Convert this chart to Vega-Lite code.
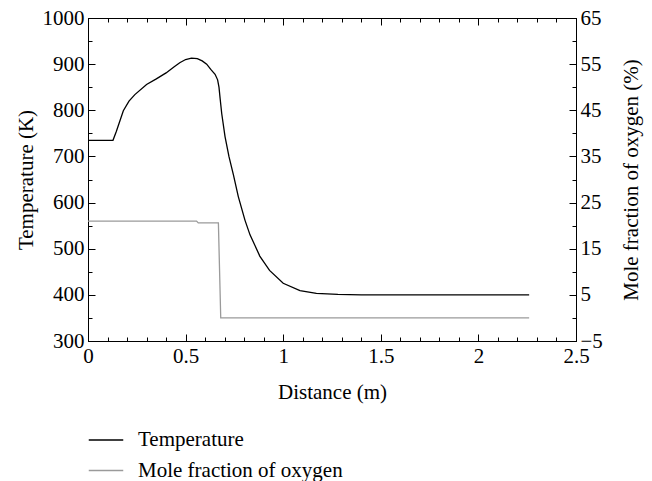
{
  "$schema": "https://vega.github.io/schema/vega-lite/v6.json",
  "width": 488,
  "height": 323,
  "autosize": {"type": "none"},
  "padding": {"left": 88, "top": 18, "right": 76, "bottom": 140},
  "background": "white",
  "config": {
    "font": "Liberation Serif",
    "view": {"stroke": "black", "strokeWidth": 1},
    "axis": {
      "grid": false,
      "domainColor": "black",
      "tickColor": "black",
      "labelColor": "black",
      "titleColor": "black",
      "labelFontSize": 21,
      "titleFontSize": 21,
      "titleFontWeight": "normal",
      "labelOverlap": false,
      "labelFlush": false
    },
    "legend": {"labelFontSize": 21, "labelColor": "black", "labelLimit": 500}
  },
  "data": {
    "values": [
      {"series": "Temperature", "d": 0, "v": 735},
      {"series": "Temperature", "d": 0.128, "v": 735},
      {"series": "Temperature", "d": 0.145, "v": 754},
      {"series": "Temperature", "d": 0.181, "v": 799},
      {"series": "Temperature", "d": 0.21, "v": 820},
      {"series": "Temperature", "d": 0.24, "v": 834},
      {"series": "Temperature", "d": 0.3, "v": 856},
      {"series": "Temperature", "d": 0.35, "v": 868},
      {"series": "Temperature", "d": 0.4, "v": 881},
      {"series": "Temperature", "d": 0.44, "v": 894},
      {"series": "Temperature", "d": 0.47, "v": 903},
      {"series": "Temperature", "d": 0.5, "v": 910},
      {"series": "Temperature", "d": 0.53, "v": 913},
      {"series": "Temperature", "d": 0.56, "v": 912},
      {"series": "Temperature", "d": 0.585, "v": 907},
      {"series": "Temperature", "d": 0.608, "v": 900},
      {"series": "Temperature", "d": 0.63, "v": 888},
      {"series": "Temperature", "d": 0.651, "v": 878},
      {"series": "Temperature", "d": 0.664, "v": 866},
      {"series": "Temperature", "d": 0.671, "v": 850},
      {"series": "Temperature", "d": 0.677, "v": 825},
      {"series": "Temperature", "d": 0.685, "v": 793},
      {"series": "Temperature", "d": 0.702, "v": 743},
      {"series": "Temperature", "d": 0.722, "v": 700},
      {"series": "Temperature", "d": 0.745, "v": 660},
      {"series": "Temperature", "d": 0.77, "v": 613},
      {"series": "Temperature", "d": 0.804, "v": 562},
      {"series": "Temperature", "d": 0.83, "v": 530},
      {"series": "Temperature", "d": 0.85, "v": 512},
      {"series": "Temperature", "d": 0.88, "v": 484},
      {"series": "Temperature", "d": 0.93, "v": 453},
      {"series": "Temperature", "d": 1.0, "v": 425},
      {"series": "Temperature", "d": 1.086, "v": 409},
      {"series": "Temperature", "d": 1.17, "v": 403},
      {"series": "Temperature", "d": 1.28, "v": 401},
      {"series": "Temperature", "d": 1.4, "v": 400},
      {"series": "Temperature", "d": 2.26, "v": 400},
      {"series": "Mole fraction of oxygen", "d": 0, "v": 21},
      {"series": "Mole fraction of oxygen", "d": 0.556, "v": 21},
      {"series": "Mole fraction of oxygen", "d": 0.565, "v": 20.6},
      {"series": "Mole fraction of oxygen", "d": 0.668, "v": 20.6},
      {"series": "Mole fraction of oxygen", "d": 0.68, "v": 0},
      {"series": "Mole fraction of oxygen", "d": 2.26, "v": 0}
    ]
  },
  "layer": [
    {
      "transform": [{"filter": "datum.series === 'Temperature'"}],
      "mark": {"type": "line", "strokeWidth": 1.3},
      "encoding": {
        "x": {
          "field": "d",
          "type": "quantitative",
          "scale": {"domain": [0, 2.5], "nice": false},
          "axis": {
            "orient": "bottom",
            "title": "Distance (m)",
            "values": [0,0.1,0.2,0.3,0.4,0.5,0.6,0.7,0.8,0.9,1,1.1,1.2,1.3,1.4,1.5,1.6,1.7,1.8,1.9,2,2.1,2.2,2.3,2.4,2.5],
            "labelExpr": "abs(datum.value*2-round(datum.value*2))<1e-6 ? format(datum.value,'~g') : ''",
            "tickSize": {"condition": {"test": "abs(datum.value*2-round(datum.value*2))<1e-6", "value": -7}, "value": -4},
            "labelPadding": 11,
            "titleY": 51,
            "titleBaseline": "middle"
          }
        },
        "y": {
          "field": "v",
          "type": "quantitative",
          "scale": {"domain": [300, 1000], "nice": false, "zero": false},
          "axis": {
            "orient": "left",
            "title": "Temperature (K)",
            "values": [300,350,400,450,500,550,600,650,700,750,800,850,900,950,1000],
            "labelExpr": "datum.value % 100 === 0 ? format(datum.value,'~g') : ''",
            "tickSize": {"condition": {"test": "datum.value % 100 === 0", "value": -7}, "value": -4},
            "labelPadding": 11,
            "titleAngle": 270,
            "titleX": -62,
            "titleY": 161.5,
            "titleAlign": "center",
            "titleBaseline": "middle"
          }
        },
        "color": {
          "field": "series",
          "type": "nominal",
          "scale": {"domain": ["Temperature", "Mole fraction of oxygen"], "range": ["#000000", "#9a9a9a"]},
          "legend": {
            "orient": "none",
            "legendX": 0,
            "legendY": 412,
            "title": null,
            "symbolType": "stroke",
            "symbolSize": 1190,
            "symbolStrokeWidth": 1.3,
            "labelOffset": 14,
            "labelLimit": 500,
            "clipHeight": 20,
            "rowPadding": 9.5
          }
        }
      }
    },
    {
      "transform": [{"filter": "datum.series === 'Mole fraction of oxygen'"}],
      "mark": {"type": "line", "strokeWidth": 1.3},
      "encoding": {
        "x": {
          "field": "d",
          "type": "quantitative",
          "axis": {
            "orient": "top",
            "title": null,
            "labels": false,
            "values": [0,0.1,0.2,0.3,0.4,0.5,0.6,0.7,0.8,0.9,1,1.1,1.2,1.3,1.4,1.5,1.6,1.7,1.8,1.9,2,2.1,2.2,2.3,2.4,2.5],
            "tickSize": {"condition": {"test": "abs(datum.value*2-round(datum.value*2))<1e-6", "value": -7}, "value": -4}
          }
        },
        "y": {
          "field": "v",
          "type": "quantitative",
          "scale": {"domain": [-5, 65], "nice": false, "zero": false},
          "axis": {
            "orient": "right",
            "title": "Mole fraction of oxygen (%)",
            "values": [-5,0,5,10,15,20,25,30,35,40,45,50,55,60,65],
            "labelExpr": "(datum.value + 5) % 10 === 0 ? format(datum.value,'~g') : ''",
            "tickSize": {"condition": {"test": "(datum.value + 5) % 10 === 0", "value": -7}, "value": -4},
            "labelPadding": 11,
            "titleAngle": 270,
            "titleX": 55,
            "titleY": 161.5,
            "titleAlign": "center",
            "titleBaseline": "middle"
          }
        },
        "color": {
          "field": "series",
          "type": "nominal",
          "scale": {"domain": ["Temperature", "Mole fraction of oxygen"], "range": ["#000000", "#9a9a9a"]}
        }
      }
    }
  ],
  "resolve": {"scale": {"y": "independent"}, "axis": {"x": "independent"}}
}
